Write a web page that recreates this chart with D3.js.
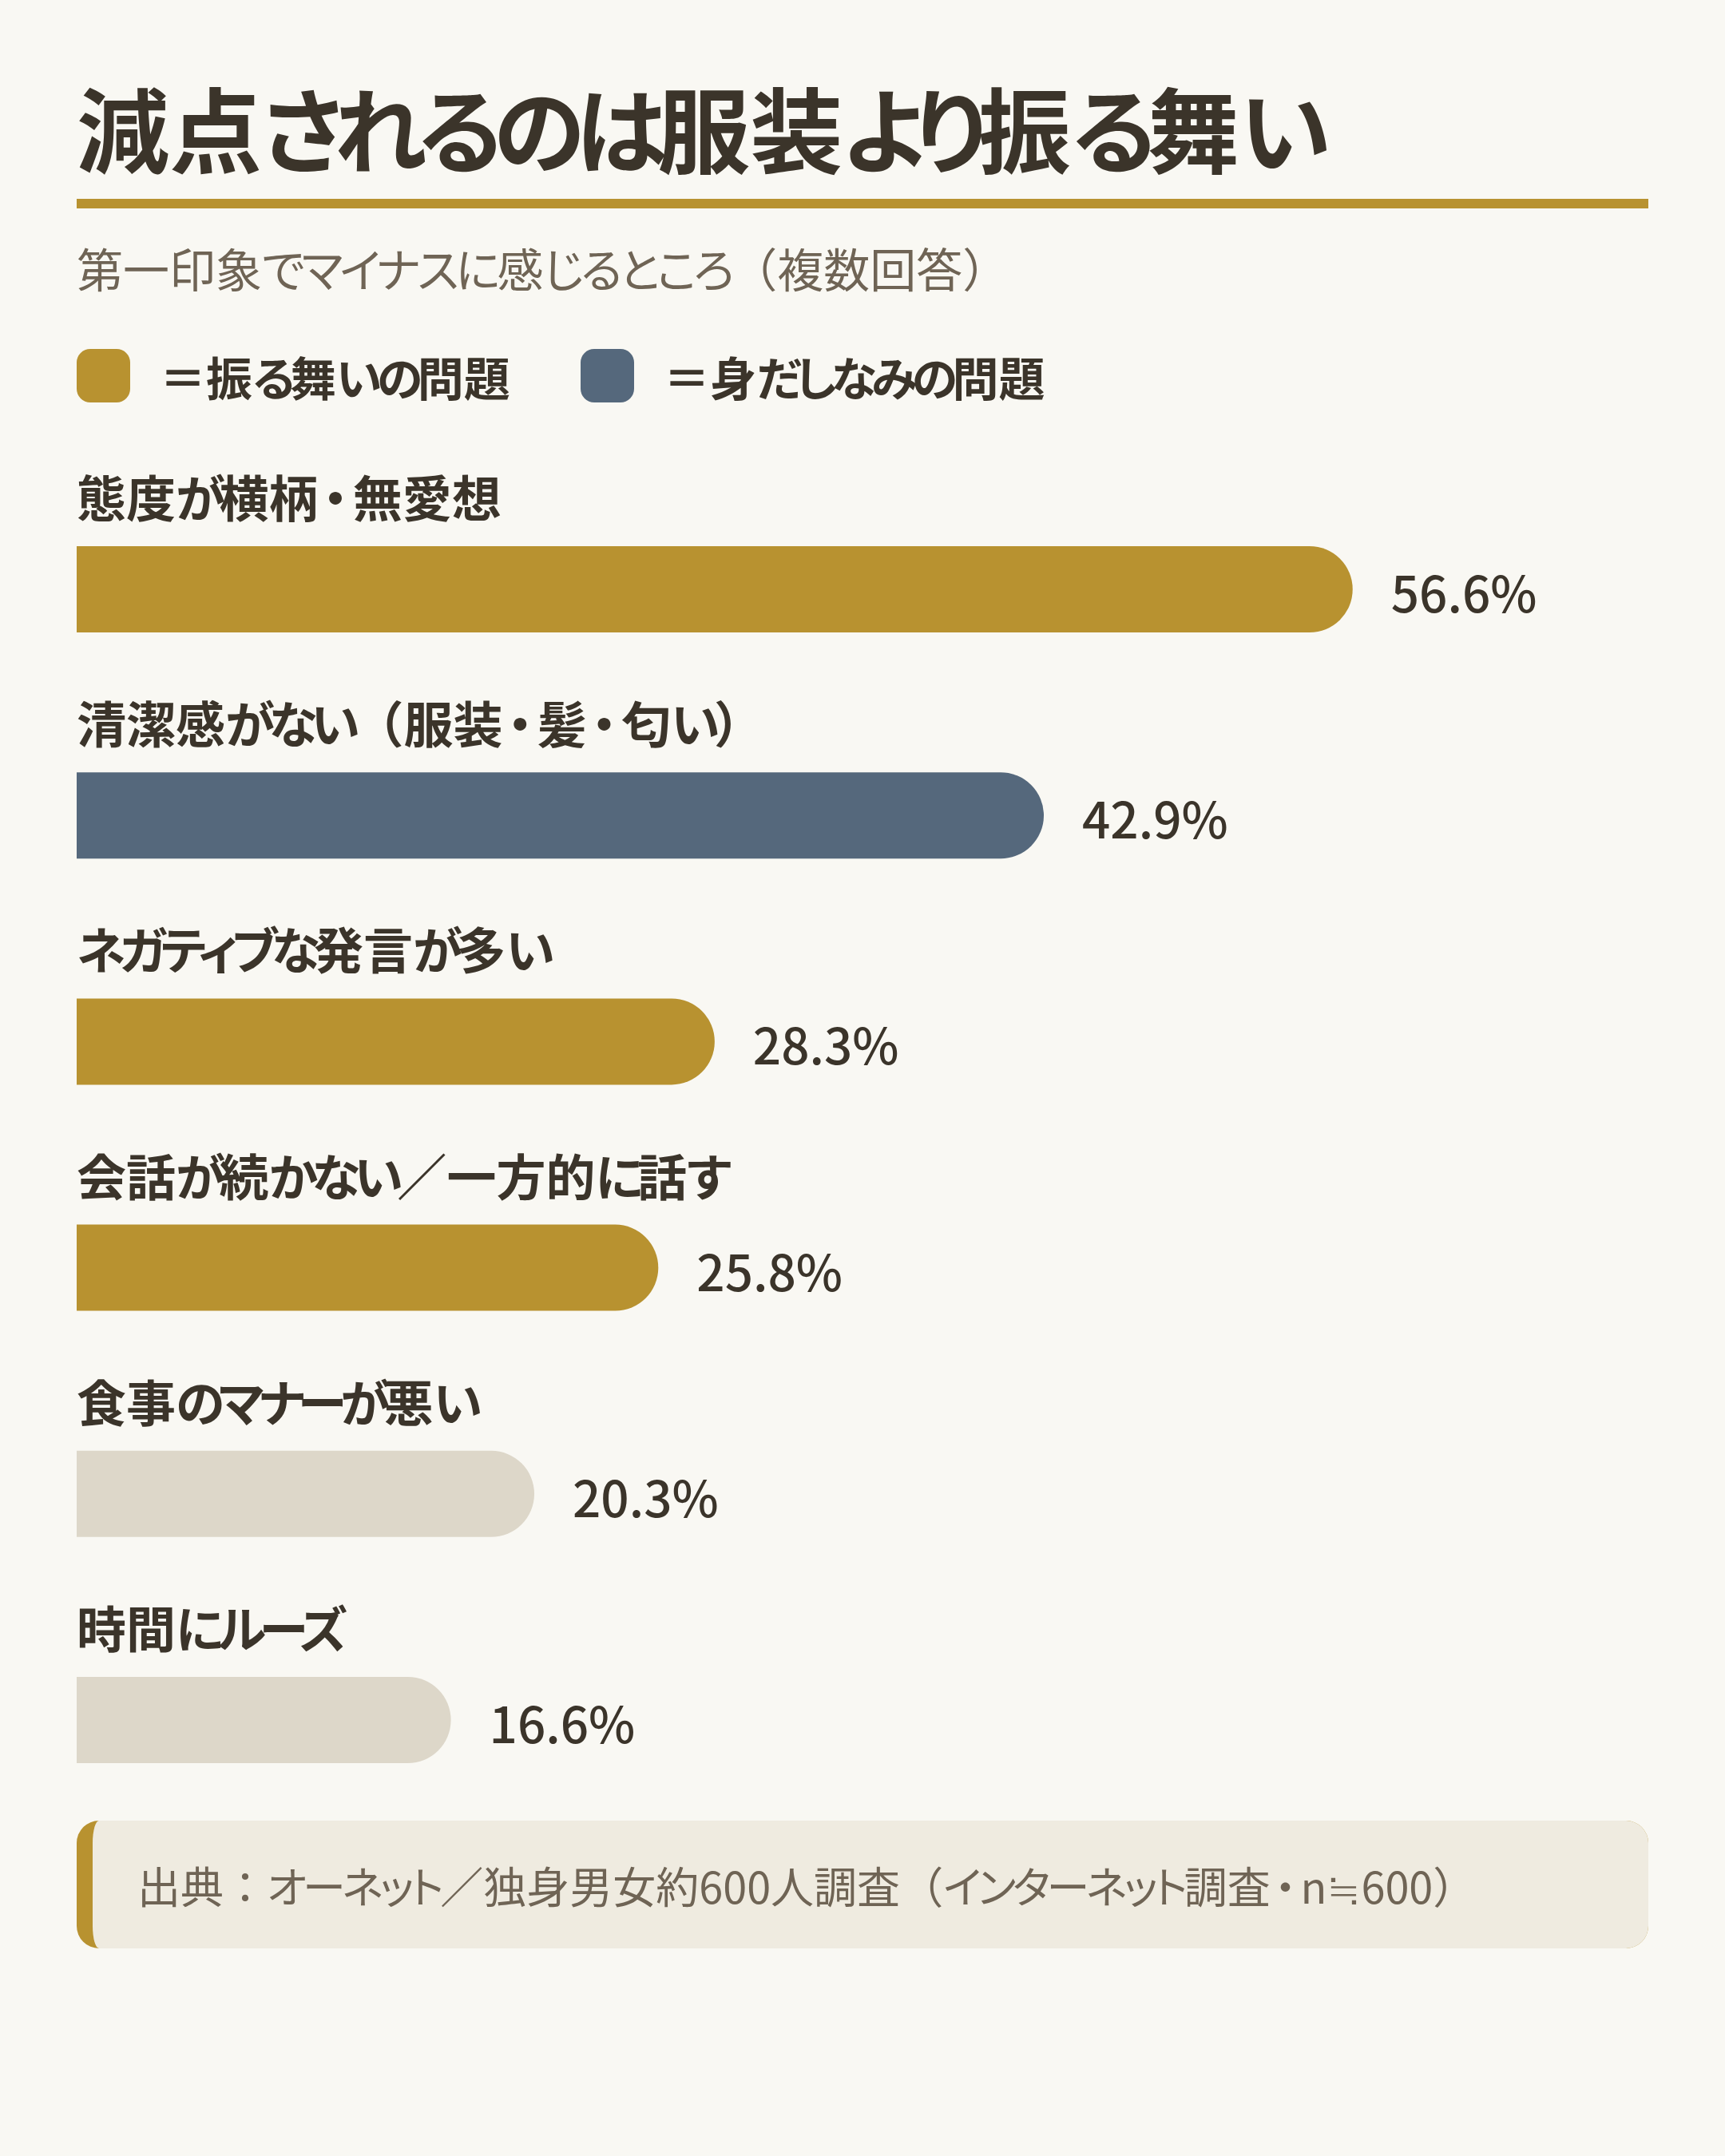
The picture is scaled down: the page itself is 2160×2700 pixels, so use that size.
<!DOCTYPE html>
<html lang="ja">
<head>
<meta charset="utf-8">
<script src="https://cdn.jsdelivr.net/npm/d3@7"></script>
<style>
  html, body { margin: 0; padding: 0; background: #f9f8f3; }
  svg { display: block; }
  text { font-family: "Noto Sans CJK JP", "Noto Sans", sans-serif; font-feature-settings: "palt"; }
</style>
</head>
<body>
<svg id="chart"></svg>
<script>
// ─────────────────────────────────────────────────────────────
// data
// ─────────────────────────────────────────────────────────────
const TITLE    = '減点されるのは服装より振る舞い';
const SUBTITLE = '第一印象でマイナスに感じるところ（複数回答）';
const SOURCE   = '出典：オーネット／独身男女約600人調査（インターネット調査・n≒600）';

const categories = [
  '態度が横柄・無愛想',
  '清潔感がない（服装・髪・匂い）',
  'ネガティブな発言が多い',
  '会話が続かない／一方的に話す',
  '食事のマナーが悪い',
  '時間にルーズ'
];
const values = [56.6, 42.9, 28.3, 25.8, 20.3, 16.6];
const kinds  = ['behavior', 'appearance', 'behavior', 'behavior', 'other', 'other'];

const legendKinds  = ['behavior', 'appearance'];
const legendLabels = ['＝振る舞いの問題', '＝身だしなみの問題'];

// ─────────────────────────────────────────────────────────────
// layout
// ─────────────────────────────────────────────────────────────
const W = 2160, H = 2700;
const LEFT = 96, RIGHT = 2064;
const BAR_TOP = 684, BAR_STEP = 283.2, BAR_H = 108;

const DARK  = '#3b342a';
const MUTED = '#6f6455';

const color = d3.scaleOrdinal()
  .domain(['behavior', 'appearance', 'other'])
  .range(['#b89230', '#55687c', '#ddd7c9']);

const x = d3.scaleLinear().domain([0, 70]).range([LEFT, LEFT + 1976]);

const svg = d3.select('#chart').attr('width', W).attr('height', H);
svg.append('rect').attr('width', W).attr('height', H).attr('fill', '#f9f8f3');

// kana set tighter, brackets kept full width, middle dot given air on both sides
function jpText(sel, str, size, kanaLs) {
  const classOf = ch =>
    ch === '・' ? 'dot'
    : /[\u3041-\u30FA\u30FC-\u30FF]/.test(ch) ? 'kana'
    : /[（）：≒／]/.test(ch) ? 'full' : 'other';
  const spacing = { kana: kanaLs * size, dot: 0.1 * size };
  const shift   = { dot: 0.1 * size };
  const runs = [];
  for (const ch of str) {
    const cls = classOf(ch);
    const last = runs[runs.length - 1];
    if (last && last.cls === cls && cls !== 'dot') last.t += ch;
    else runs.push({ cls, t: ch });
  }
  sel.attr('font-size', size);
  sel.selectAll('tspan').data(runs).join('tspan')
    .attr('dx', d => shift[d.cls] || null)
    .style('letter-spacing', d => spacing[d.cls] ? spacing[d.cls] + 'px' : null)
    .style('font-feature-settings', d => d.cls === 'full' ? 'normal' : null)
    .text(d => d.t);
}

// title + rule
svg.append('text')
  .attr('x', LEFT).attr('y', 208)
  .attr('font-weight', 700)
  .attr('fill', DARK)
  .call(jpText, TITLE, 116, -0.1);

svg.append('rect')
  .attr('x', LEFT).attr('y', 249)
  .attr('width', RIGHT - LEFT).attr('height', 12)
  .attr('fill', color('behavior'));

svg.append('text')
  .attr('x', LEFT).attr('y', 360)
  .attr('fill', MUTED)
  .call(jpText, SUBTITLE, 58, -0.07);

// legend
const legendX = [LEFT, 727];
const legend = svg.selectAll('.legend')
  .data(legendKinds)
  .join('g')
  .attr('class', 'legend')
  .attr('transform', (d, i) => `translate(${legendX[i]},437)`);

legend.append('rect')
  .attr('width', 67).attr('height', 67).attr('rx', 17)
  .attr('fill', d => color(d));

legend.append('text')
  .attr('x', 104).attr('y', 59)
  .attr('font-weight', 700)
  .attr('fill', DARK)
  .each(function(d, i) { jpText(d3.select(this), legendLabels[i], 58, -0.11); });

// bars
const rows = svg.selectAll('.row')
  .data(values.map((v, i) => ({ v, label: categories[i], kind: kinds[i] })))
  .join('g')
  .attr('class', 'row')
  .attr('transform', (d, i) => `translate(0,${BAR_TOP + i * BAR_STEP})`);

rows.append('text')
  .attr('x', LEFT).attr('y', -36)
  .attr('font-weight', 700)
  .attr('fill', DARK)
  .each(function(d) { jpText(d3.select(this), d.label, 62, -0.12); });

function barPath(x0, x1, h) {
  const r = h / 2;
  const p = d3.path();
  p.moveTo(x0, 0);
  p.lineTo(x1 - r, 0);
  p.arc(x1 - r, r, r, -Math.PI / 2, Math.PI / 2);
  p.lineTo(x0, h);
  p.closePath();
  return p.toString();
}

rows.append('path')
  .attr('d', d => barPath(x(0), x(d.v), BAR_H))
  .attr('fill', d => color(d.kind));

rows.append('text')
  .attr('x', d => x(d.v) + 48).attr('y', 83)
  .attr('font-size', 62).attr('font-weight', 500)
  .attr('fill', DARK)
  .text(d => d.v.toFixed(1) + '%');

// source box with a gold left border
const BOX_Y = 2280, BOX_H = 160, BOX_R = 28, BORDER = 20;
svg.append('rect')
  .attr('x', LEFT).attr('y', BOX_Y)
  .attr('width', RIGHT - LEFT).attr('height', BOX_H)
  .attr('rx', BOX_R)
  .attr('fill', color('behavior'));

const ix = LEFT + BORDER, irx = BOX_R - BORDER;
svg.append('path')
  .attr('d', `M${ix + irx},${BOX_Y}` +
    `H${RIGHT - BOX_R}A${BOX_R},${BOX_R} 0 0 1 ${RIGHT},${BOX_Y + BOX_R}` +
    `V${BOX_Y + BOX_H - BOX_R}A${BOX_R},${BOX_R} 0 0 1 ${RIGHT - BOX_R},${BOX_Y + BOX_H}` +
    `H${ix + irx}A${irx},${BOX_R} 0 0 1 ${ix},${BOX_Y + BOX_H - BOX_R}` +
    `V${BOX_Y + BOX_R}A${irx},${BOX_R} 0 0 1 ${ix + irx},${BOX_Y}Z`)
  .attr('fill', '#efebe0');

svg.append('text')
  .attr('x', 172).attr('y', 2384)
  .attr('fill', MUTED)
  .call(jpText, SOURCE, 54, -0.08);
</script>
</body>
</html>
